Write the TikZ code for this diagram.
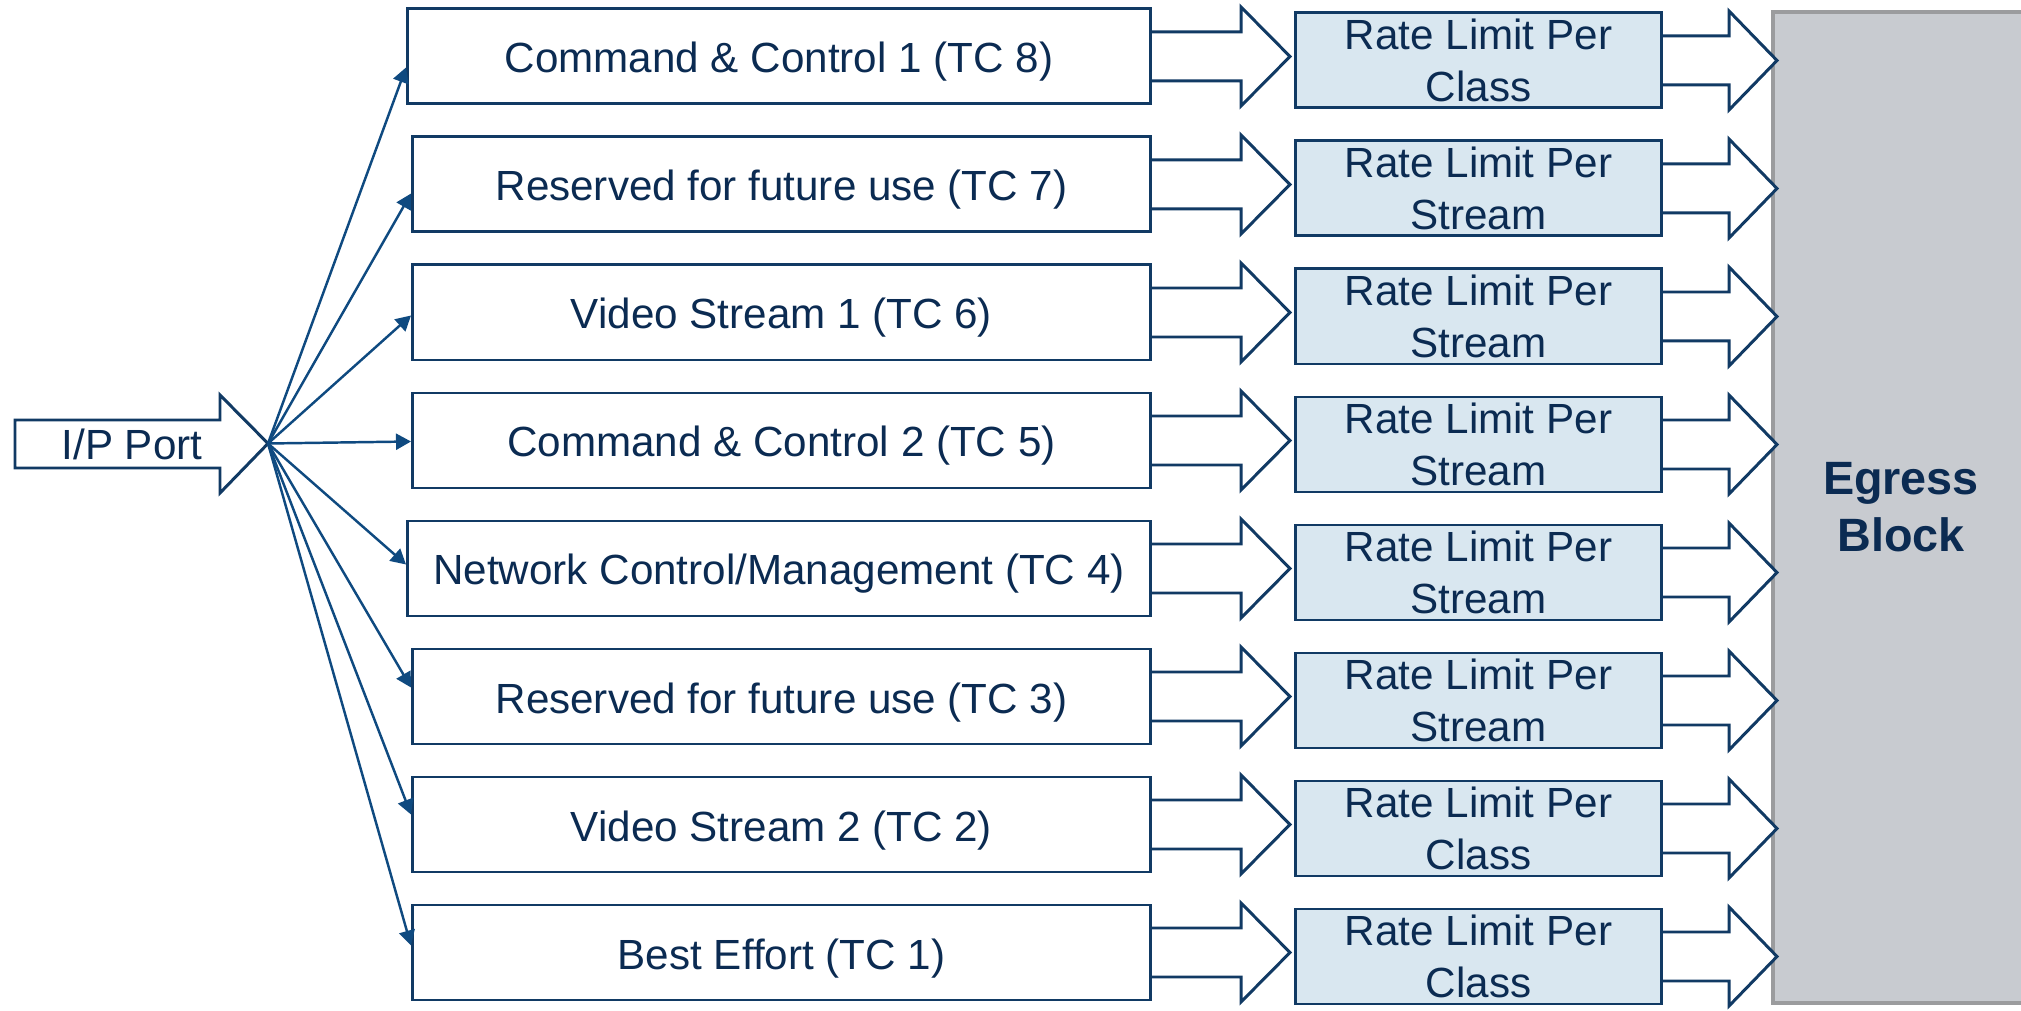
\documentclass[tikz,border=0pt]{standalone}
\usepackage{fontspec}
\setmainfont{Liberation Sans}
\usetikzlibrary{positioning}
\usetikzlibrary{arrows.meta, calc}

\definecolor{navytext}{HTML}{0B2B52}
\definecolor{navyline}{HTML}{113A64}
\definecolor{fanblue}{HTML}{0F4A80}
\definecolor{ratefill}{HTML}{D9E7F0}
\definecolor{egressfill}{HTML}{C8CBD0}
\definecolor{egressline}{HTML}{9B9C9E}

\tikzset{
  classbox/.style={rectangle,draw=navyline,line width=0.85pt,fill=white,minimum height=0.95cm,inner sep=0pt,text height=0.33cm,text depth=0cm,text=navytext,font=\fontsize{12}{14}\selectfont},
  ratebox/.style={rectangle,draw=navyline,line width=0.85pt,fill=ratefill,minimum width=3.66cm,minimum height=0.95cm,inner sep=0pt,align=center,text=navytext,font=\fontsize{12}{14.6}\selectfont},
  fanarrow/.style={draw=fanblue,line width=0.7pt,-{Triangle[length=0.15cm,width=0.16cm]}},
  blockarrow/.style={draw=navyline,line width=0.85pt,fill=white,line join=miter},
  egressbox/.style={rectangle,draw=egressline,line width=1.2pt,fill=egressfill,minimum width=2.56cm,minimum height=9.91cm,align=center,text=navytext,font=\fontsize{13.3}{16.2}\selectfont\bfseries}
}

% fat arrow: start anchor, shaft length, head length
\newcommand{\fatarrow}[3]{%
  \draw[blockarrow] ($(#1)+(0,0.245)$) -- ++(#2,0) -- ++(0,0.25) -- ++(#3,-0.495) -- ++(-#3,-0.495) -- ++(0,0.25) -- ++(-#2,0);
}

\begin{document}
\begin{tikzpicture}
\useasboundingbox (0,0) rectangle (20.21,-10.11);

% egress
\node[egressbox] (egress) at (19.01,-5.075) {Egress\\Block};

% input port
\draw[blockarrow] (0.15,-4.20) -- (2.20,-4.20) -- (2.20,-3.95) -- (2.68,-4.435) -- (2.20,-4.93) -- (2.20,-4.68) -- (0.15,-4.68) -- cycle;
\node[text=navytext,font=\fontsize{12}{14}\selectfont] (ipport) at (1.32,-4.44) {I/P Port};
\coordinate (fan) at (2.68,-4.435);

% traffic classes
\node[classbox,minimum width=7.43cm,anchor=east] (m1) at (11.52,-0.565) {Command \& Control 1 (TC 8)};
\node[classbox,minimum width=7.38cm,anchor=east] (m2) at (11.52,-1.845) {Reserved for future use (TC 7)};
\node[classbox,minimum width=7.38cm,anchor=east] (m3) at (11.52,-3.125) {Video Stream 1 (TC 6)};
\node[classbox,minimum width=7.38cm,anchor=east] (m4) at (11.52,-4.405) {Command \& Control 2 (TC 5)};
\node[classbox,minimum width=7.43cm,anchor=east] (m5) at (11.52,-5.685) {Network Control/Management (TC 4)};
\node[classbox,minimum width=7.38cm,anchor=east] (m6) at (11.52,-6.965) {Reserved for future use (TC 3)};
\node[classbox,minimum width=7.38cm,anchor=east] (m7) at (11.52,-8.245) {Video Stream 2 (TC 2)};
\node[classbox,minimum width=7.38cm,anchor=east] (m8) at (11.52,-9.525) {Best Effort (TC 1)};

% rate limiters
\node[ratebox,anchor=west] (r1) at (12.94,-0.605) {Rate Limit Per\\Class};
\node[ratebox,anchor=west] (r2) at (12.94,-1.885) {Rate Limit Per\\Stream};
\node[ratebox,anchor=west] (r3) at (12.94,-3.165) {Rate Limit Per\\Stream};
\node[ratebox,anchor=west] (r4) at (12.94,-4.445) {Rate Limit Per\\Stream};
\node[ratebox,anchor=west] (r5) at (12.94,-5.725) {Rate Limit Per\\Stream};
\node[ratebox,anchor=west] (r6) at (12.94,-7.005) {Rate Limit Per\\Stream};
\node[ratebox,anchor=west] (r7) at (12.94,-8.285) {Rate Limit Per\\Class};
\node[ratebox,anchor=west] (r8) at (12.94,-9.565) {Rate Limit Per\\Class};

% fan out
\draw[fanarrow] (fan) -- ([yshift=-0.11cm]m1.west);
\draw[fanarrow] (fan) -- ([yshift=-0.09cm]m2.west);
\draw[fanarrow] (fan) -- ([yshift=-0.03cm]m3.west);
\draw[fanarrow] (fan) -- ([yshift=-0.01cm]m4.west);
\draw[fanarrow] (fan) -- ([yshift=0.04cm]m5.west);
\draw[fanarrow] (fan) -- ([yshift=0.09cm]m6.west);
\draw[fanarrow] (fan) -- ([yshift=0.10cm]m7.west);
\draw[fanarrow] (fan) -- ([yshift=0.07cm]m8.west);

% class -> rate limit
\fatarrow{m1.east}{0.89}{0.49}
\fatarrow{m2.east}{0.89}{0.49}
\fatarrow{m3.east}{0.89}{0.49}
\fatarrow{m4.east}{0.89}{0.49}
\fatarrow{m5.east}{0.89}{0.49}
\fatarrow{m6.east}{0.89}{0.49}
\fatarrow{m7.east}{0.89}{0.49}
\fatarrow{m8.east}{0.89}{0.49}

% rate limit -> egress
\fatarrow{r1.east}{0.66}{0.48}
\fatarrow{r2.east}{0.66}{0.48}
\fatarrow{r3.east}{0.66}{0.48}
\fatarrow{r4.east}{0.66}{0.48}
\fatarrow{r5.east}{0.66}{0.48}
\fatarrow{r6.east}{0.66}{0.48}
\fatarrow{r7.east}{0.66}{0.48}
\fatarrow{r8.east}{0.66}{0.48}

\end{tikzpicture}
\end{document}
